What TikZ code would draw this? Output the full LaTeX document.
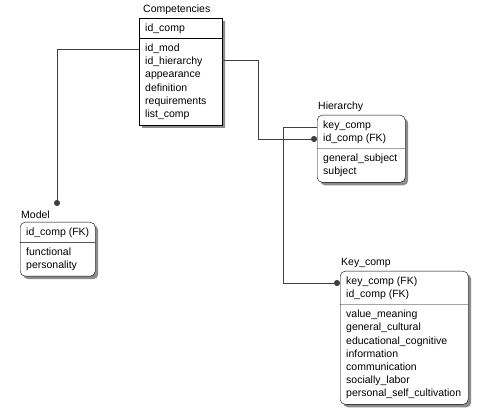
\documentclass[tikz,border=0pt]{standalone}
\usepackage{fontspec}
\setmainfont{Liberation Sans}
\usetikzlibrary{positioning,arrows.meta,shapes.multipart,shadows}
\definecolor{erline}{RGB}{64,64,64}
\definecolor{ershadow}{RGB}{140,140,140}
\newcommand{\erfont}{\fontsize{10.5}{13.2}\selectfont}
\tikzset{
  entity/.style={draw, rectangle split, rectangle split parts=2, align=left, rectangle split part align=left, font=\erfont, inner xsep=6pt, inner ysep=3.4pt, fill=white, anchor=north west, drop shadow={shadow xshift=3pt, shadow yshift=-3pt, fill=ershadow, opacity=1}},
  depentity/.style={entity, rounded corners=5pt},
  enttitle/.style={font=\erfont, inner sep=1pt},
  rel/.style={draw=erline, -{Circle[length=6pt]}, line width=0.8pt}
}
\begin{document}
\begin{tikzpicture}[x=1pt, y=-1pt]
  \useasboundingbox (0,0) rectangle (484,411);
  % entities
  \node[entity, minimum width=83pt] (comp) at (139,18) {\strut id\_comp
    \nodepart{two} \strut id\_mod\\id\_hierarchy\\appearance\\definition\\requirements\\\strut list\_comp};
  \node[depentity, minimum width=88pt] (hier) at (317,115) {\strut key\_comp\\\strut id\_comp (FK)
    \nodepart{two} \strut general\_subject\\\strut subject};
  \node[depentity, minimum width=75pt] (model) at (20,222) {\strut id\_comp (FK)
    \nodepart{two} \strut functional\\\strut personality};
  \node[depentity, minimum width=128pt] (key) at (340,271) {\strut key\_comp (FK)\\\strut id\_comp (FK)
    \nodepart{two} \strut value\_meaning\\general\_cultural\\educational\_cognitive\\information\\communication\\socially\_labor\\\strut personal\_self\_cultivation};
  % names
  \node[enttitle, above right=2pt and 3pt of comp.north west] (comptitle) {Competencies};
  \node[enttitle, above right=2pt and 0pt of hier.north west] (hiertitle) {Hierarchy};
  \node[enttitle, above right=2pt and 0pt of model.north west] (modeltitle) {Model};
  \node[enttitle, above right=2pt and 0pt of key.north west] (keytitle) {Key\_comp};
  % relationships
  \draw[rel] ([yshift=-31pt]comp.north west) -| ([xshift=37pt, yshift=16pt]model.north west);
  \draw[rel] ([yshift=-42pt]comp.north east) -- ++(36,0) |- ([yshift=-24pt]hier.north west);
  \draw[rel] ([yshift=-12pt]hier.north west) -- ++(-34,0) |- ([yshift=-12pt]key.north west);
\end{tikzpicture}
\end{document}
